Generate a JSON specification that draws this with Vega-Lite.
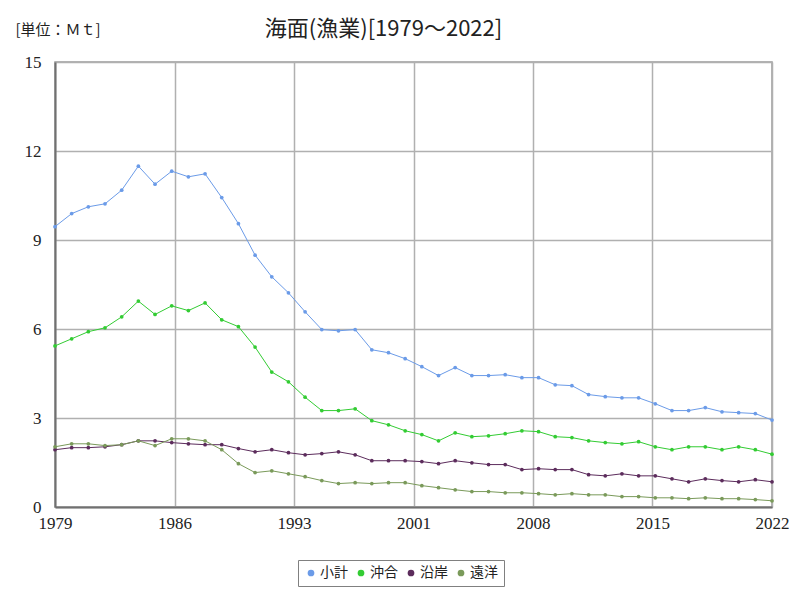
{
  "$schema": "https://vega.github.io/schema/vega-lite/v6.json",
  "width": 717,
  "height": 445,
  "autosize": {"type": "none"},
  "padding": {"left": 55, "top": 62, "right": 28, "bottom": 93},
  "background": "white",
  "title": {
    "text": "海面(漁業)[1979～2022]",
    "fontSize": 22,
    "font": "Noto Sans CJK JP",
    "fontWeight": "normal",
    "color": "#222222",
    "anchor": "middle",
    "dx": -30,
    "offset": -19
  },
  "config": {
    "font": "Noto Sans CJK JP",
    "view": {"stroke": "#9a9a9a", "strokeWidth": 1.5},
    "axis": {
      "gridColor": "#b0b0b0",
      "gridWidth": 1.5,
      "domainColor": "#707070",
      "domainWidth": 2,
      "ticks": false,
      "labelFontSize": 17,
      "labelColor": "#222222",
      "labelFont": "Liberation Sans Narrow"
    }
  },
  "data": {
    "values": [
      {"year": 1979, "小計": 9.45, "沖合": 5.43, "沿岸": 1.93, "遠洋": 2.03},
      {"year": 1980, "小計": 9.89, "沖合": 5.67, "沿岸": 2.00, "遠洋": 2.13},
      {"year": 1981, "小計": 10.12, "沖合": 5.91, "沿岸": 2.00, "遠洋": 2.13},
      {"year": 1982, "小計": 10.22, "沖合": 6.04, "沿岸": 2.03, "遠洋": 2.07},
      {"year": 1983, "小計": 10.68, "沖合": 6.41, "沿岸": 2.10, "遠洋": 2.10},
      {"year": 1984, "小計": 11.49, "沖合": 6.94, "沿岸": 2.23, "遠洋": 2.23},
      {"year": 1985, "小計": 10.88, "沖合": 6.49, "沿岸": 2.23, "遠洋": 2.07},
      {"year": 1986, "小計": 11.32, "沖合": 6.78, "沿岸": 2.17, "遠洋": 2.30},
      {"year": 1987, "小計": 11.13, "沖合": 6.62, "沿岸": 2.13, "遠洋": 2.30},
      {"year": 1988, "小計": 11.23, "沖合": 6.88, "沿岸": 2.10, "遠洋": 2.23},
      {"year": 1989, "小計": 10.43, "沖合": 6.31, "沿岸": 2.10, "遠洋": 1.93},
      {"year": 1990, "小計": 9.55, "沖合": 6.08, "沿岸": 1.97, "遠洋": 1.46},
      {"year": 1991, "小計": 8.49, "沖合": 5.39, "沿岸": 1.86, "遠洋": 1.16},
      {"year": 1992, "小計": 7.76, "沖合": 4.55, "沿岸": 1.93, "遠洋": 1.22},
      {"year": 1993, "小計": 7.22, "沖合": 4.22, "沿岸": 1.83, "遠洋": 1.12},
      {"year": 1994, "小計": 6.58, "沖合": 3.70, "沿岸": 1.76, "遠洋": 1.02},
      {"year": 1995, "小計": 5.98, "沖合": 3.25, "沿岸": 1.80, "遠洋": 0.89},
      {"year": 1996, "小計": 5.94, "沖合": 3.25, "沿岸": 1.86, "遠洋": 0.79},
      {"year": 1997, "小計": 5.98, "沖合": 3.31, "沿岸": 1.76, "遠洋": 0.82},
      {"year": 1998, "小計": 5.30, "沖合": 2.91, "沿岸": 1.56, "遠洋": 0.79},
      {"year": 1999, "小計": 5.20, "沖合": 2.77, "沿岸": 1.56, "遠洋": 0.82},
      {"year": 2000, "小計": 5.00, "沖合": 2.57, "沿岸": 1.56, "遠洋": 0.82},
      {"year": 2001, "小計": 4.73, "沖合": 2.44, "沿岸": 1.53, "遠洋": 0.72},
      {"year": 2002, "小計": 4.43, "沖合": 2.23, "沿岸": 1.46, "遠洋": 0.65},
      {"year": 2003, "小計": 4.70, "沖合": 2.50, "沿岸": 1.56, "遠洋": 0.58},
      {"year": 2004, "小計": 4.43, "沖合": 2.37, "沿岸": 1.49, "遠洋": 0.52},
      {"year": 2005, "小計": 4.43, "沖合": 2.40, "沿岸": 1.43, "遠洋": 0.52},
      {"year": 2006, "小計": 4.46, "沖合": 2.47, "沿岸": 1.43, "遠洋": 0.48},
      {"year": 2007, "小計": 4.36, "沖合": 2.57, "沿岸": 1.26, "遠洋": 0.48},
      {"year": 2008, "小計": 4.36, "沖合": 2.54, "沿岸": 1.29, "遠洋": 0.45},
      {"year": 2009, "小計": 4.12, "沖合": 2.37, "沿岸": 1.26, "遠洋": 0.41},
      {"year": 2010, "小計": 4.09, "沖合": 2.34, "沿岸": 1.26, "遠洋": 0.45},
      {"year": 2011, "小計": 3.79, "沖合": 2.23, "沿岸": 1.09, "遠洋": 0.41},
      {"year": 2012, "小計": 3.72, "沖合": 2.17, "沿岸": 1.05, "遠洋": 0.41},
      {"year": 2013, "小計": 3.68, "沖合": 2.13, "沿岸": 1.12, "遠洋": 0.35},
      {"year": 2014, "小計": 3.68, "沖合": 2.20, "沿岸": 1.05, "遠洋": 0.35},
      {"year": 2015, "小計": 3.48, "沖合": 2.03, "沿岸": 1.05, "遠洋": 0.31},
      {"year": 2016, "小計": 3.25, "沖合": 1.93, "沿岸": 0.95, "遠洋": 0.31},
      {"year": 2017, "小計": 3.25, "沖合": 2.03, "沿岸": 0.85, "遠洋": 0.28},
      {"year": 2018, "小計": 3.35, "沖合": 2.03, "沿岸": 0.95, "遠洋": 0.31},
      {"year": 2019, "小計": 3.21, "沖合": 1.93, "沿岸": 0.89, "遠洋": 0.28},
      {"year": 2020, "小計": 3.18, "沖合": 2.03, "沿岸": 0.85, "遠洋": 0.28},
      {"year": 2021, "小計": 3.15, "沖合": 1.93, "沿岸": 0.92, "遠洋": 0.25},
      {"year": 2022, "小計": 2.93, "沖合": 1.78, "沿岸": 0.85, "遠洋": 0.21}
    ]
  },
  "transform": [
    {"fold": ["小計", "沖合", "沿岸", "遠洋"], "as": ["series", "value"]}
  ],
  "mark": {
    "type": "line",
    "strokeWidth": 1,
    "point": {"size": 14, "filled": true}
  },
  "encoding": {
    "x": {
      "field": "year",
      "type": "quantitative",
      "scale": {"domain": [1979, 2022], "nice": false, "zero": false},
      "axis": {
        "title": null,
        "values": [1979, 1986.1667, 1993.3333, 2000.5, 2007.6667, 2014.8333, 2022],
        "labelExpr": "format(round(datum.value), 'd')",
        "labelPadding": 8,
        "labelFlush": false
      }
    },
    "y": {
      "field": "value",
      "type": "quantitative",
      "scale": {"domain": [0, 15], "nice": false},
      "axis": {
        "values": [0, 3, 6, 9, 12, 15],
        "title": "[単位：Ｍｔ]",
        "titleAngle": 0,
        "titleAlign": "left",
        "titleBaseline": "alphabetic",
        "titleX": -40,
        "titleY": -28,
        "titleFontSize": 15,
        "titleFontWeight": "normal",
        "titleFont": "Noto Sans CJK JP",
        "titleColor": "#222222",
        "labelPadding": 14
      }
    },
    "color": {
      "field": "series",
      "type": "nominal",
      "sort": ["小計", "沖合", "沿岸", "遠洋"],
      "scale": {
        "domain": ["小計", "沖合", "沿岸", "遠洋"],
        "range": ["#6b9be8", "#33cc33", "#5c2c5c", "#7a9a5a"]
      },
      "legend": {
        "title": null,
        "orient": "none",
        "direction": "horizontal",
        "legendX": 243,
        "legendY": 498,
        "symbolType": "circle",
        "symbolSize": 45,
        "symbolStrokeWidth": 0,
        "labelFontSize": 14,
        "labelFont": "Noto Sans CJK JP",
        "labelColor": "#222222",
        "columnPadding": 6,
        "symbolOffset": 0,
        "labelOffset": 2,
        "strokeColor": "#808080",
        "padding": 6,
        "fillColor": "white"
      }
    }
  }
}
